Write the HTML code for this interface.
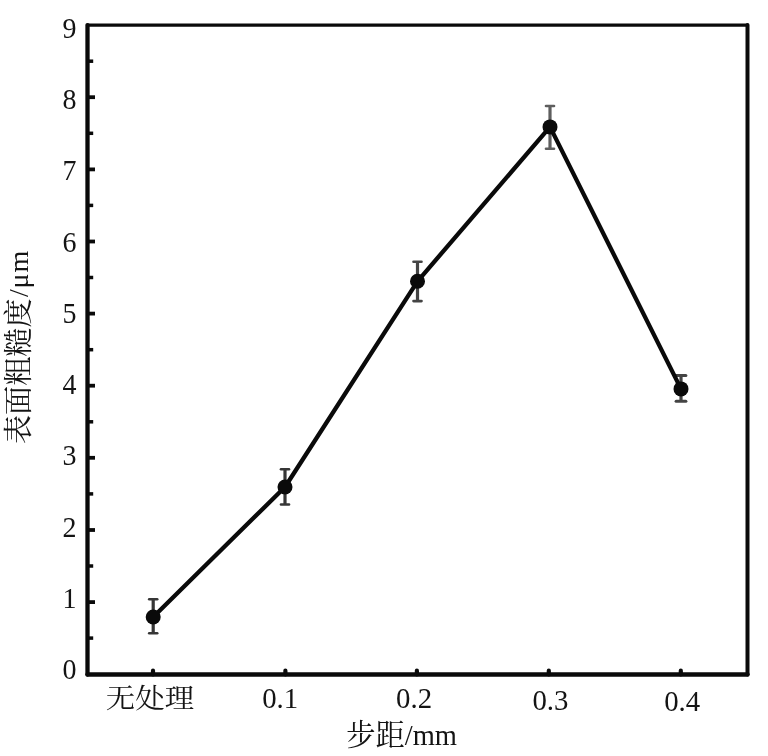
<!DOCTYPE html>
<html lang="zh">
<head>
<meta charset="utf-8">
<title>表面粗糙度 - 步距</title>
<style>
html,body{margin:0;padding:0;background:#fff;}
body{width:768px;height:756px;overflow:hidden;}
svg{display:block;}
</style>
</head>
<body>
<svg width="768" height="756" viewBox="0 0 768 756">
<rect width="768" height="756" fill="#ffffff"/>
<g stroke="#0a0a0a" fill="none" stroke-linecap="round">
<line x1="87.5" y1="25.05" x2="87.5" y2="674.5" stroke-width="4.3"/>
<line x1="87.5" y1="25.05" x2="747.5" y2="25.05" stroke-width="3.3"/>
<line x1="747.5" y1="25.05" x2="747.5" y2="674.5" stroke-width="4.0"/>
<line x1="87.5" y1="674.5" x2="747.5" y2="674.5" stroke-width="4.4"/>
</g>
<g stroke="#0a0a0a" fill="none" stroke-linecap="butt">
<line x1="87.5" y1="638.1" x2="93.2" y2="638.1" stroke-width="3.5"/>
<line x1="87.5" y1="602.1" x2="95.0" y2="602.1" stroke-width="3.8"/>
<line x1="87.5" y1="566.0" x2="93.2" y2="566.0" stroke-width="3.5"/>
<line x1="87.5" y1="530.0" x2="95.0" y2="530.0" stroke-width="3.8"/>
<line x1="87.5" y1="493.9" x2="93.2" y2="493.9" stroke-width="3.5"/>
<line x1="87.5" y1="457.8" x2="95.0" y2="457.8" stroke-width="3.8"/>
<line x1="87.5" y1="421.8" x2="93.2" y2="421.8" stroke-width="3.5"/>
<line x1="87.5" y1="385.7" x2="95.0" y2="385.7" stroke-width="3.8"/>
<line x1="87.5" y1="349.7" x2="93.2" y2="349.7" stroke-width="3.5"/>
<line x1="87.5" y1="313.6" x2="95.0" y2="313.6" stroke-width="3.8"/>
<line x1="87.5" y1="277.5" x2="93.2" y2="277.5" stroke-width="3.5"/>
<line x1="87.5" y1="241.5" x2="95.0" y2="241.5" stroke-width="3.8"/>
<line x1="87.5" y1="205.4" x2="93.2" y2="205.4" stroke-width="3.5"/>
<line x1="87.5" y1="169.4" x2="95.0" y2="169.4" stroke-width="3.8"/>
<line x1="87.5" y1="133.3" x2="93.2" y2="133.3" stroke-width="3.5"/>
<line x1="87.5" y1="97.2" x2="95.0" y2="97.2" stroke-width="3.8"/>
<line x1="87.5" y1="61.2" x2="93.2" y2="61.2" stroke-width="3.5"/>
<line x1="153.0" y1="674.5" x2="153.0" y2="670.7" stroke-width="4.2" stroke-linecap="round"/>
<line x1="285.4" y1="674.5" x2="285.4" y2="670.7" stroke-width="4.2" stroke-linecap="round"/>
<line x1="416.9" y1="674.5" x2="416.9" y2="670.7" stroke-width="4.2" stroke-linecap="round"/>
<line x1="548.8" y1="674.5" x2="548.8" y2="670.7" stroke-width="4.2" stroke-linecap="round"/>
<line x1="680.8" y1="674.5" x2="680.8" y2="670.7" stroke-width="4.2" stroke-linecap="round"/>
</g>
<g fill="none">
<g stroke="#363636">
<line x1="153.2" y1="599.0" x2="153.2" y2="633.5" stroke-width="3.2"/>
<line x1="149.2" y1="599.3" x2="157.2" y2="599.3" stroke-width="2.6" stroke-linecap="round"/>
<line x1="149.2" y1="633.2" x2="157.2" y2="633.2" stroke-width="2.6" stroke-linecap="round"/>
</g>
<g stroke="#363636">
<line x1="285.0" y1="469.0" x2="285.0" y2="504.8" stroke-width="3.2"/>
<line x1="281.0" y1="469.3" x2="289.0" y2="469.3" stroke-width="2.6" stroke-linecap="round"/>
<line x1="281.0" y1="504.5" x2="289.0" y2="504.5" stroke-width="2.6" stroke-linecap="round"/>
</g>
<g stroke="#444444">
<line x1="417.5" y1="261.4" x2="417.5" y2="301.4" stroke-width="3.2"/>
<line x1="413.5" y1="261.7" x2="421.5" y2="261.7" stroke-width="2.6" stroke-linecap="round"/>
<line x1="413.5" y1="301.09999999999997" x2="421.5" y2="301.09999999999997" stroke-width="2.6" stroke-linecap="round"/>
</g>
<g stroke="#5e5e5e">
<line x1="550.0" y1="105.7" x2="550.0" y2="149.0" stroke-width="3.2"/>
<line x1="546.0" y1="106.0" x2="554.0" y2="106.0" stroke-width="2.6" stroke-linecap="round"/>
<line x1="546.0" y1="148.7" x2="554.0" y2="148.7" stroke-width="2.6" stroke-linecap="round"/>
</g>
<g stroke="#444444">
<line x1="681.0" y1="375.0" x2="681.0" y2="401.8" stroke-width="3.2"/>
<line x1="676.1" y1="375.5" x2="685.9" y2="375.5" stroke-width="3.0" stroke-linecap="round"/>
<line x1="676.1" y1="401.3" x2="685.9" y2="401.3" stroke-width="3.0" stroke-linecap="round"/>
</g>
</g>
<polyline points="153.2,617.0 285.0,487.0 417.5,281.3 550.0,126.9 681.0,388.9" fill="none" stroke="#0a0a0a" stroke-width="4.3" stroke-linejoin="round" stroke-linecap="round"/>
<circle cx="153.2" cy="617.0" r="7.5" fill="#0a0a0a"/>
<circle cx="285.0" cy="487.0" r="7.5" fill="#0a0a0a"/>
<circle cx="417.5" cy="281.3" r="7.5" fill="#0a0a0a"/>
<circle cx="550.0" cy="126.9" r="7.5" fill="#0a0a0a"/>
<circle cx="681.0" cy="388.9" r="7.5" fill="#0a0a0a"/>
<g fill="#141414" font-family="'Liberation Serif', 'Noto Serif CJK SC', serif" font-size="29.5px">
<text transform="translate(69.6,679.3) scale(1,1.07)" text-anchor="middle" font-size="28px">0</text>
<text transform="translate(69.6,608.0) scale(1,1.07)" text-anchor="middle" font-size="28px">1</text>
<text transform="translate(69.6,536.7) scale(1,1.07)" text-anchor="middle" font-size="28px">2</text>
<text transform="translate(69.6,465.4) scale(1,1.07)" text-anchor="middle" font-size="28px">3</text>
<text transform="translate(69.6,394.1) scale(1,1.07)" text-anchor="middle" font-size="28px">4</text>
<text transform="translate(69.6,322.8) scale(1,1.07)" text-anchor="middle" font-size="28px">5</text>
<text transform="translate(69.6,251.5) scale(1,1.07)" text-anchor="middle" font-size="28px">6</text>
<text transform="translate(69.6,180.2) scale(1,1.07)" text-anchor="middle" font-size="28px">7</text>
<text transform="translate(69.6,108.9) scale(1,1.07)" text-anchor="middle" font-size="28px">8</text>
<text transform="translate(69.6,37.6) scale(1,1.07)" text-anchor="middle" font-size="28px">9</text>
<text transform="translate(262.2,707.6) scale(1,1.05)" font-size="28.8px">0.1</text>
<text transform="translate(396.1,707.6) scale(1,1.05)" font-size="28.8px">0.2</text>
<text transform="translate(532.4,710.4) scale(1,1.05)" font-size="28.8px">0.3</text>
<text transform="translate(664.2,710.7) scale(1,1.05)" font-size="28.8px">0.4</text>
<text transform="translate(105.7,708.0) scale(1,0.96)" font-size="29px" textLength="88.4" lengthAdjust="spacingAndGlyphs">无处理</text>
<text x="346.2" y="745.3" font-size="29.3px">步距<tspan font-size="28.5px" dy="-0.5">/mm</tspan></text>
<text transform="translate(28.8,444.0) rotate(-90)" x="0.0 29.1 58.2 87.3 116.4" font-size="29.1px">表面粗糙度</text>
<text transform="translate(27.5,444.0) rotate(-90)" x="147.1 155.4 171.6" font-size="28px">/μm</text>
</g>
</svg>
</body>
</html>
